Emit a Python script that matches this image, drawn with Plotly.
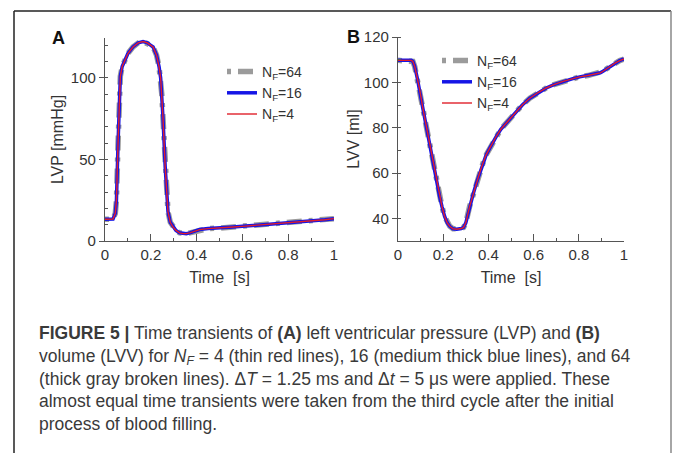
import plotly.graph_objects as go

W, H = 673, 453

# ---------------- data ----------------
t_lvp = [0, 0.02, 0.035, 0.045, 0.05, 0.057, 0.062, 0.067, 0.075, 0.086, 0.1, 0.122,
         0.145, 0.166, 0.185, 0.2, 0.21, 0.225, 0.236, 0.243, 0.248, 0.253, 0.263,
         0.27, 0.275, 0.285, 0.297, 0.31, 0.326, 0.34, 0.355, 0.37, 0.384, 0.4,
         0.413, 0.45, 0.486, 0.52, 0.559, 0.6, 0.65, 0.705, 0.75, 0.8, 0.85, 0.9,
         0.923, 0.96, 1.0]
lvp_nf64 = [13.3, 13.3, 13.5, 17, 25, 60, 85, 101, 107, 111, 115, 119,
            121.5, 122.3, 121.5, 120, 119, 114, 107, 100, 90, 76, 45,
            28, 18, 11.5, 8.6, 6.5, 5, 4.5, 4.5, 5, 5.5, 6.5,
            7, 7.6, 7.8, 8.2, 8.6, 9.0, 9.5, 10, 10.5, 11, 11.7, 12.1,
            12.3, 13.0, 13.7]
lvp_nf16 = list(lvp_nf64)
lvp_nf4 = list(lvp_nf64)

t_lvv = [0, 0.03, 0.059, 0.066, 0.074, 0.085, 0.096, 0.11, 0.125, 0.14, 0.155, 0.17,
         0.184, 0.195, 0.206, 0.218, 0.229, 0.243, 0.26, 0.28, 0.29, 0.3, 0.317,
         0.332, 0.347, 0.362, 0.376, 0.39, 0.406, 0.42, 0.435, 0.455, 0.479, 0.5,
         0.524, 0.55, 0.583, 0.62, 0.656, 0.69, 0.73, 0.77, 0.804, 0.84, 0.878,
         0.895, 0.907, 0.92, 0.937, 0.96, 0.981, 1.0]
lvv_nf64 = [109.7, 109.7, 109.7, 109.2, 107, 102, 96.8, 88.5, 80.6, 72.5, 64.4, 56.5,
            49.7, 45, 40.9, 38, 36.5, 35.4, 35.2, 35.5, 36, 38, 45.3,
            50.5, 55.6, 60.3, 64.4, 68, 71, 73.8, 76.2, 79.3, 82, 84.6,
            87.2, 90, 93, 95.5, 97.5, 99, 100.4, 101.5, 102.4, 103, 103.8,
            104.2, 104.9, 105.8, 107, 108.5, 109.6, 110.3]
lvv_nf16 = list(lvv_nf64)
lvv_nf4 = list(lvv_nf64)

series_names = ["N<sub>F</sub>=64", "N<sub>F</sub>=16", "N<sub>F</sub>=4"]
x_ticks = [0, 0.2, 0.4, 0.6, 0.8, 1]
x_ticktext = ["0", "0.2", "0.4", "0.6", "0.8", "1"]
lvp_ticks = [0, 50, 100]
lvv_ticks = [40, 60, 80, 100, 120]

caption = ("<b>FIGURE 5 |</b> Time transients of <b>(A)</b> left ventricular pressure (LVP) and <b>(B)</b><br>"
           "volume (LVV) for <i>N<sub>F</sub></i> = 4 (thin red lines), 16 (medium thick blue lines), and 64<br>"
           "(thick gray broken lines). \u0394<i>T</i> = 1.25 ms and \u0394<i>t</i> = 5 \u03bcs were applied. These<br>"
           "almost equal time transients were taken from the third cycle after the initial<br>"
           "process of blood filling.")

# ---------------- styles ----------------
styles = [
    dict(color="#9b9b9b", width=5.5, dash="4px,7px,15px,7px"),
    dict(color="#1515e6", width=3.5),
    dict(color="#e0202a", width=1.4),
]

fig = go.Figure()
for i, (ys, st) in enumerate(zip([lvp_nf64, lvp_nf16, lvp_nf4], styles)):
    fig.add_trace(go.Scatter(x=t_lvp, y=ys, mode="lines", line=st, name=series_names[i],
                             xaxis="x", yaxis="y", legend="legend"))
for i, (ys, st) in enumerate(zip([lvv_nf64, lvv_nf16, lvv_nf4], styles)):
    fig.add_trace(go.Scatter(x=t_lvv, y=ys, mode="lines", line=st, name=series_names[i],
                             xaxis="x2", yaxis="y2", legend="legend2"))

FONT = "Liberation Sans, Arial, sans-serif"
tickfont = dict(family=FONT, size=15, color="#333")
titlefont = dict(family=FONT, size=16, color="#333")
axcol = "#555"


def xax(dom, anchor):
    return dict(domain=dom, anchor=anchor, range=[0, 1], tickvals=x_ticks, ticktext=x_ticktext,
                ticks="inside", ticklen=7, tickcolor=axcol, tickwidth=1.2,
                minor=dict(dtick=0.1, ticks="inside", ticklen=3, tickcolor=axcol, tickwidth=1.2),
                showline=True, linecolor=axcol, linewidth=1.3, showgrid=False, zeroline=False,
                tickfont=tickfont, automargin=False,
                title=dict(text="Time\u00a0\u00a0[s]", font=titlefont, standoff=9))


def yax(dom, anchor, rng, tv, title, standoff):
    return dict(domain=dom, anchor=anchor, range=rng, tickvals=tv,
                ticks="outside", ticklen=5, tickcolor=axcol, tickwidth=1.2,
                minor=dict(dtick=10, ticks="inside", ticklen=3, tickcolor=axcol, tickwidth=1.2),
                showline=True, linecolor=axcol, linewidth=1.3, showgrid=False, zeroline=False,
                tickfont=tickfont, automargin=False,
                title=dict(text=title, font=titlefont, standoff=standoff))


ydom = [(H - 241) / H, (H - 38) / H]
ydom2 = [(H - 241) / H, (H - 37) / H]

legend_common = dict(bgcolor="rgba(0,0,0,0)", borderwidth=0, itemwidth=30,
                     font=dict(family=FONT, size=14, color="#333"), xanchor="left", yanchor="top",
                     tracegroupgap=0, itemclick=False, itemdoubleclick=False)

fig.update_layout(
    width=W, height=H, margin=dict(l=0, r=0, t=0, b=0),
    paper_bgcolor="white", plot_bgcolor="white",
    xaxis=xax([105 / W, 334 / W], "y"),
    yaxis=yax(ydom, "x", [0, 124.5], lvp_ticks, "LVP [mmHg]", 3),
    xaxis2=xax([398 / W, 624 / W], "y2"),
    yaxis2=yax(ydom2, "x2", [30, 120], lvv_ticks, "LVV [ml]", 0),
    legend=dict(x=222 / W, y=(H - 56) / H, **legend_common),
    legend2=dict(x=437 / W, y=(H - 45) / H, **legend_common),
    showlegend=True,
    annotations=[
        dict(text="<b>A</b>", x=58 / W, y=(H - 38) / H, xref="paper", yref="paper",
             showarrow=False, font=dict(family=FONT, size=18, color="#111"),
             xanchor="center", yanchor="middle"),
        dict(text="<b>B</b>", x=353 / W, y=(H - 37) / H, xref="paper", yref="paper",
             showarrow=False, font=dict(family=FONT, size=18, color="#111"),
             xanchor="center", yanchor="middle"),
        dict(text=caption, x=37 / W, y=(H - 321) / H, xref="paper", yref="paper",
             showarrow=False, align="left", xanchor="left", yanchor="top",
             font=dict(family=FONT, size=17.5, color="#3a3a3a")),
    ],
    shapes=[
        dict(type="line", xref="paper", yref="paper", x0=14 / W, x1=671 / W,
             y0=(H - 11) / H, y1=(H - 11) / H, line=dict(color="#222", width=1.5)),
        dict(type="line", xref="paper", yref="paper", x0=14 / W, x1=14 / W,
             y0=0, y1=(H - 11) / H, line=dict(color="#222", width=1.5)),
        dict(type="line", xref="paper", yref="paper", x0=671 / W, x1=671 / W,
             y0=0, y1=(H - 11) / H, line=dict(color="#888", width=1.5)),
    ],
)

fig.write_html("out.html")
